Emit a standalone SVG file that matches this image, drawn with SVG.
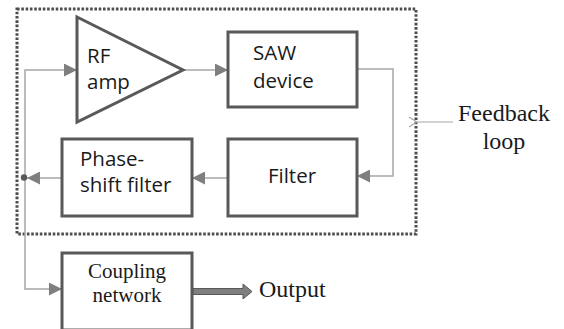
<svg xmlns="http://www.w3.org/2000/svg" width="564" height="329" viewBox="0 0 564 329">
<defs>
<style>
.box{fill:#fff;stroke:#595959;stroke-width:3}
.con{fill:none;stroke:#a6a6a6;stroke-width:1.5}
.sans{font-family:"Open Sans","DejaVu Sans",sans-serif;font-size:20.5px;fill:#1a1a1a}
.serif{font-family:"Liberation Serif","Times New Roman",serif;fill:#1a1a1a}
</style>
<marker id="ah" markerWidth="13" markerHeight="13" refX="13" refY="6.5" orient="auto" markerUnits="userSpaceOnUse">
<path d="M0,0 L13,6.5 L0,13 Z" fill="#7f7f7f"/>
</marker>
<marker id="oa" markerWidth="10" markerHeight="12" refX="0" refY="6" orient="auto" markerUnits="userSpaceOnUse">
<path d="M9,1 L1,6 L9,11" fill="none" stroke="#a6a6a6" stroke-width="1.2"/>
</marker>
</defs>
<rect width="564" height="329" fill="#fff"/>
<rect x="17" y="9" width="399" height="225" fill="none" stroke="#4d4d4d" stroke-width="3" stroke-dasharray="2.6,1.7"/>
<g id="connectors">
<path class="con" d="M25,178 V289 H62" marker-end="url(#ah)"/>
<path class="con" d="M25,178 V70 H77" marker-end="url(#ah)"/>
<path class="con" d="M183,70 H228" marker-end="url(#ah)"/>
<path class="con" d="M357,69 H393 V176 H357" marker-end="url(#ah)"/>
<path class="con" d="M228,178 H192" marker-end="url(#ah)"/>
<path class="con" d="M62,178 H27" marker-end="url(#ah)"/>
<circle cx="24" cy="177.5" r="3.2" fill="#595959"/>
<polygon points="193,288.5 243,288.5 243,284 252,291.5 243,299 243,294.5 193,294.5" fill="#7f7f7f" stroke="#595959" stroke-width="1"/>
<path d="M453,122 H418" stroke="#a6a6a6" stroke-width="1.2" marker-end="url(#oa)"/>
</g>
<g id="rf-amp">
<polygon class="box" points="77,17 183,70 77,122"/>
<text class="sans" x="87" y="63">RF</text>
<text class="sans" x="87" y="89">amp</text>
</g>
<g id="saw">
<rect class="box" x="228" y="32" width="129" height="75"/>
<text class="sans" x="253" y="60">SAW</text>
<text class="sans" x="253" y="88">device</text>
</g>
<g id="filter">
<rect class="box" x="228" y="139" width="129" height="77"/>
<text class="sans" x="292" y="183" text-anchor="middle">Filter</text>
</g>
<g id="phase-shift">
<rect class="box" x="62" y="139" width="130" height="77"/>
<text class="sans" x="80" y="166">Phase-</text>
<text class="sans" x="80" y="192">shift filter</text>
</g>
<g id="coupling">
<rect class="box" x="62" y="253" width="130" height="77"/>
<text class="serif" x="127" y="278" font-size="21" text-anchor="middle">Coupling</text>
<text class="serif" x="127" y="302" font-size="21" text-anchor="middle">network</text>
</g>
<g id="output">
<text class="serif" x="259" y="297" font-size="24">Output</text>
</g>
<g id="feedback">
<text class="serif" x="458" y="121" font-size="24">Feedback</text>
<text class="serif" x="504" y="149" font-size="24" text-anchor="middle">loop</text>
</g>
</svg>
